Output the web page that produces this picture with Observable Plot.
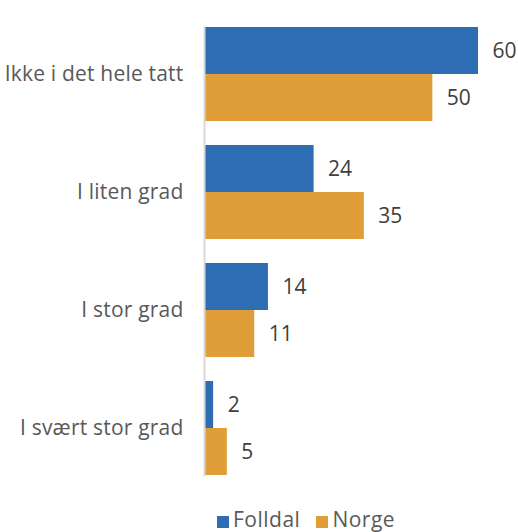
<!DOCTYPE html>
<html>
<head>
<meta charset="utf-8">
<script src="https://cdn.jsdelivr.net/npm/d3@7"></script>
<script src="https://cdn.jsdelivr.net/npm/@observablehq/plot@0.6"></script>
<style>
  html, body { margin: 0; padding: 0; background: #fff; }
  body { width: 518px; height: 532px; overflow: hidden; font-family: "Open Sans", sans-serif; }
  #legend { display: flex; gap: 16px; padding-left: 217px; margin-top: 3px; font-size: 21px; letter-spacing: 0.5px; color: #595959; line-height: 26px; }
  #legend span.sw { display: inline-block; width: 12px; height: 12px; margin-right: 4px; vertical-align: -1px; }
  svg g[aria-label="fy-axis tick label"] text { letter-spacing: 0.2px; }
</style>
</head>
<body>
<div id="chart"></div>
<div id="legend"></div>
<script>
const categories = ["Ikke i det hele tatt", "I liten grad", "I stor grad", "I svært stor grad"];
const series = ["Folldal", "Norge"];
const folldal = [60, 24, 14, 2];
const norge = [50, 35, 11, 5];
const colors = ["#2E6DB4", "#DF9E38"];

const data = [];
categories.forEach((c, i) => {
  data.push({category: c, series: "Folldal", value: folldal[i]});
  data.push({category: c, series: "Norge", value: norge[i]});
});

const chart = Plot.plot({
  width: 518,
  height: 503,
  marginLeft: 204,
  marginRight: 40,
  marginTop: 14,
  marginBottom: 15,
  style: {fontFamily: "'Open Sans', sans-serif", fontSize: "21px", color: "#595959", background: "#fff"},
  x: {domain: [0, 60], axis: null},
  y: {domain: series, axis: null, padding: 0},
  fy: {domain: categories, paddingInner: 0.2, paddingOuter: 0.1, label: null, tickSize: 0, tickPadding: 21},
  color: {domain: series, range: colors},
  marks: [
    Plot.barX(data, {fy: "category", y: "series", x: "value", fill: "series"}),
    Plot.text(data, {fy: "category", y: "series", x: "value", text: d => String(d.value), dx: 14, textAnchor: "start", fill: "#404040", fontSize: 21}),
    Plot.frame({anchor: "left", facet: "super", stroke: "#d9d9d9", strokeWidth: 2})
  ]
});
document.getElementById("chart").appendChild(chart);

const legend = document.getElementById("legend");
series.forEach((s, i) => {
  const item = document.createElement("div");
  item.innerHTML = `<span class="sw" style="background:${colors[i]}"></span>${s}`;
  legend.appendChild(item);
});
</script>
</body>
</html>
